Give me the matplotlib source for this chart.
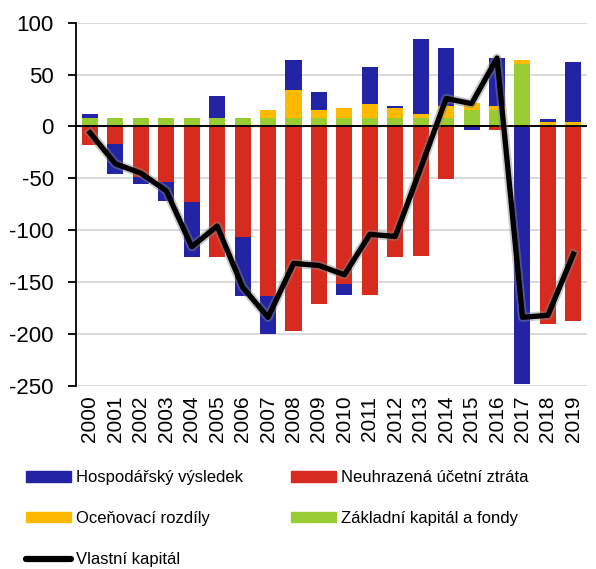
import numpy as np
import matplotlib
matplotlib.use('Agg')
import matplotlib.pyplot as plt
import matplotlib.patheffects as pe
from matplotlib.patches import Patch
from matplotlib.lines import Line2D

plt.rcParams['font.family'] = ['Liberation Sans', 'DejaVu Sans']
plt.rcParams['axes.unicode_minus'] = False

years = [str(y) for y in range(2000, 2020)]

# components (CZK bn)
hosp = [4, -29, -6, -18, -53, 21, -56, -37, 29, 17, -10, 35, 2, 72, 56, -3, 46, -248, 3, 58]
neuhr = [-18, -17, -49, -54, -73, -126, -107, -163, -197, -171, -152, -162, -126, -125, -51, 0, -3, 0, -190, -188]
ocen = [0, 0, 0, 0, 0, 0, 0, 8, 27, 8, 10, 14, 10, 4, 12, 7, 4, 4, 4, 4]
zakl = [8, 8, 8, 8, 8, 8, 8, 8, 8, 8, 8, 8, 8, 8, 8, 16, 16, 60, 0, 0]
vlastni = [-6, -36, -45, -62, -116, -96, -155, -184, -132, -134, -143, -104, -106, -40, 27, 22, 66, -184, -182, -123]

series = [
    ('Základní kapitál a fondy', zakl, '#99cc33'),
    ('Oceňovací rozdíly', ocen, '#ffba00'),
    ('Neuhrazená účetní ztráta', neuhr, '#d72b1f'),
    ('Hospodářský výsledek', hosp, '#2323a6'),
]

fig = plt.figure(figsize=(5.96, 5.69), dpi=100)
ax = fig.add_axes([0.1275, 0.322, 0.858, 0.638])

x = np.arange(len(years))
pos = np.zeros(len(years))
neg = np.zeros(len(years))
for name, vals, col in series:
    v = np.array(vals, dtype=float)
    bottom = np.where(v >= 0, pos, neg)
    ax.bar(x, v, 0.63, bottom=bottom, color=col, zorder=2)
    pos += np.where(v >= 0, v, 0)
    neg += np.where(v < 0, v, 0)

ax.axhline(0, color='black', lw=1.4, zorder=3)
ax.plot(x, vlastni, color='black', lw=3.8, zorder=4,
        path_effects=[pe.Stroke(linewidth=6.5, foreground='#888888', alpha=0.45), pe.Normal()])

ax.set_xlim(-0.55, 19.55)
ax.set_ylim(-250, 100)
ax.set_yticks(np.arange(-250, 101, 50))
ax.grid(axis='y', color='#d4d4d4', lw=1.2, zorder=0)
ax.set_axisbelow(True)
ax.set_xticks(x)
ax.set_xticklabels(years, rotation=90, fontsize=15)
ax.tick_params(axis='x', length=0, pad=7)
ax.tick_params(axis='y', labelsize=16, length=6, width=1.3, pad=10)
for s in ['top', 'right', 'bottom']:
    ax.spines[s].set_visible(False)
ax.spines['left'].set_linewidth(1.3)

handles = [
    Patch(color='#2323a6', label='Hospodářský výsledek'),
    Patch(color='#ffba00', label='Oceňovací rozdíly'),
    Line2D([], [], color='black', lw=4.5, solid_capstyle='round', label='Vlastní kapitál'),
    Patch(color='#d72b1f', label='Neuhrazená účetní ztráta'),
    Patch(color='#99cc33', label='Základní kapitál a fondy'),
]
fig.legend(handles=handles, ncol=2, loc='upper left', bbox_to_anchor=(0.029, 0.188),
           frameon=False, fontsize=12, handlelength=2.7, handleheight=0.57,
           handletextpad=0.3, columnspacing=2.9, labelspacing=1.55, borderpad=0)

fig.savefig('out.png', dpi=100)
